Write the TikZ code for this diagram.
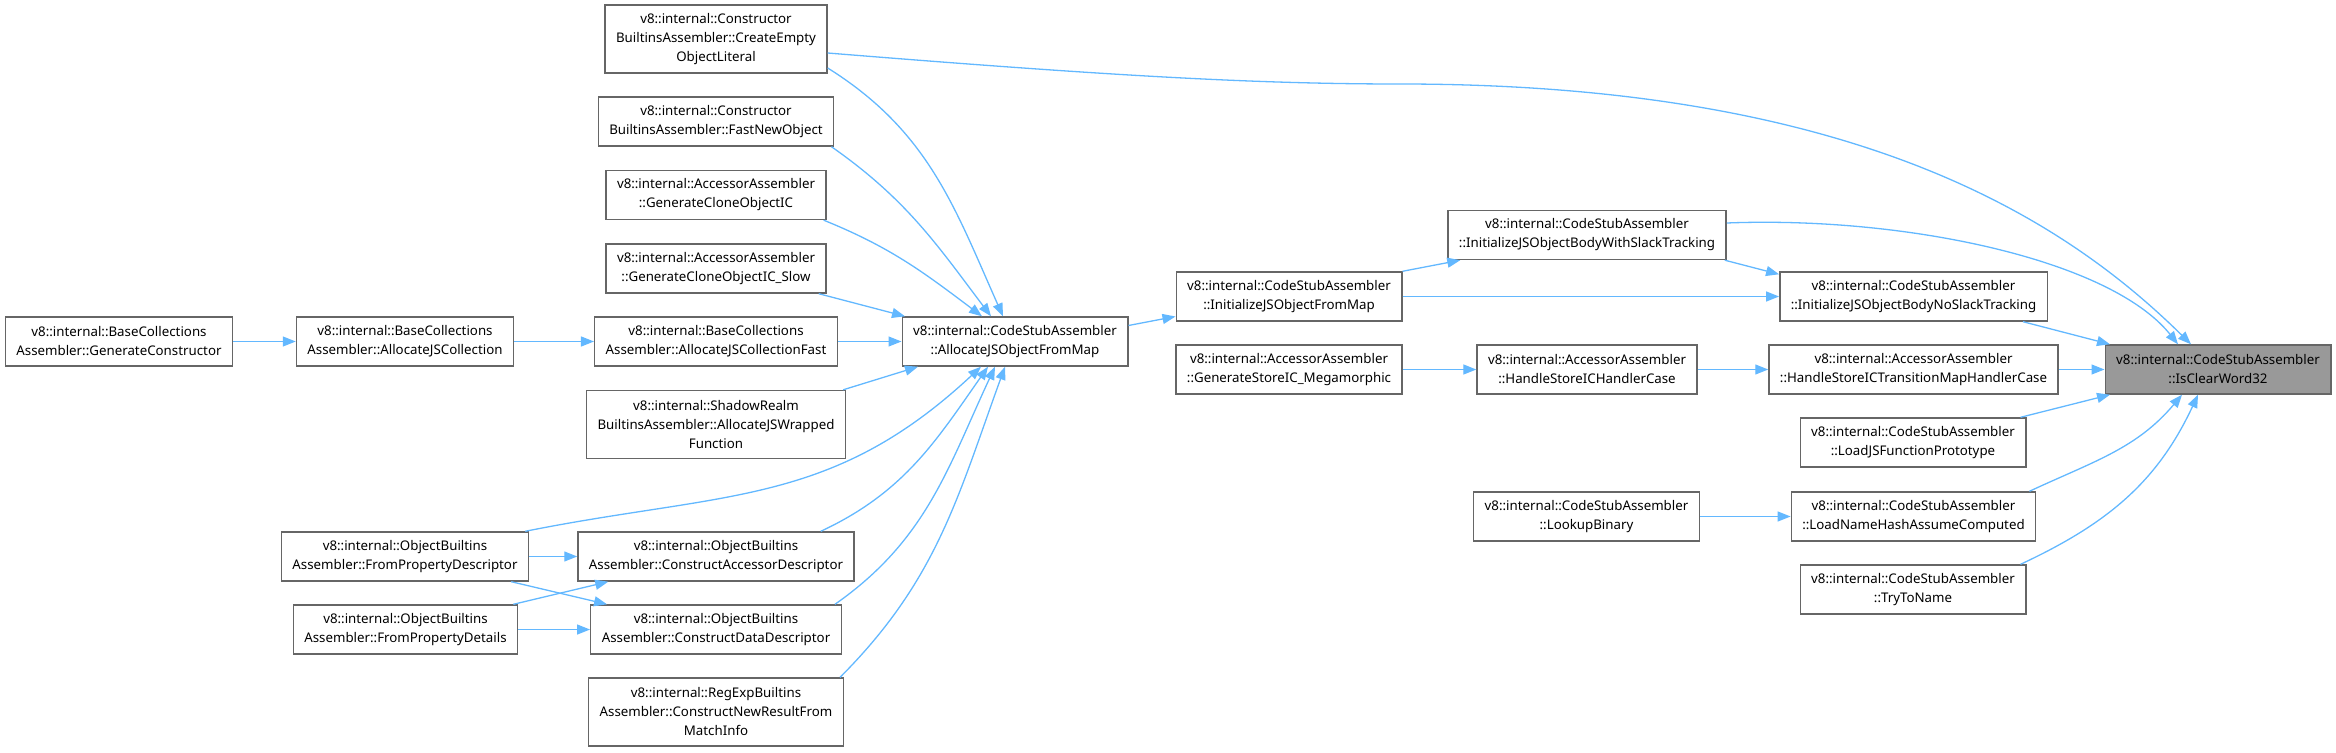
\documentclass[tikz,border=0pt]{standalone}
\usepackage{fontspec}
\setmainfont{Noto Sans}
\usepackage{xcolor}
\usepackage{tikz}
\usetikzlibrary{arrows.meta}
\definecolor{callblue}{HTML}{63B8FF}
\tikzset{
  fn/.style={rectangle, draw=black!60, fill=white, line width=1.4pt, align=center,
             font=\fontsize{13.3}{19}\selectfont, inner xsep=11pt, inner ysep=2pt,
             minimum height=49pt},
  fnlong/.style={fn, minimum height=68pt},
  fnself/.style={fn, fill=black!40},
  call/.style={-{Triangle[length=13pt, width=10pt]}, line width=1.3pt, draw=callblue},
}
\begin{document}
\begin{tikzpicture}[x=1pt, y=1pt]
    \useasboundingbox (0,0) rectangle (2336,-752);

    \node[fn] (genctor) at (119,-341.5) {v8::internal::BaseCollections\\Assembler::GenerateConstructor};
    \node[fn] (alloccoll) at (405,-341.5) {v8::internal::BaseCollections\\Assembler::AllocateJSCollection};
    \node[fn] (fromdesc) at (405,-556.5) {v8::internal::ObjectBuiltins\\Assembler::FromPropertyDescriptor};
    \node[fn] (fromdetails) at (405.5,-629.5) {v8::internal::ObjectBuiltins\\Assembler::FromPropertyDetails};

    \node[fnlong] (emptylit) at (716,-39) {v8::internal::Constructor\\BuiltinsAssembler::CreateEmpty\\ObjectLiteral};
    \node[fn] (fastnew) at (716,-121.5) {v8::internal::Constructor\\BuiltinsAssembler::FastNewObject};
    \node[fn] (cloneic) at (716,-195) {v8::internal::AccessorAssembler\\::GenerateCloneObjectIC};
    \node[fn] (cloneslow) at (716,-268.5) {v8::internal::AccessorAssembler\\::GenerateCloneObjectIC\_Slow};
    \node[fn] (allocfast) at (716,-341.5) {v8::internal::BaseCollections\\Assembler::AllocateJSCollectionFast};
    \node[fnlong] (wrapped) at (716,-424.5) {v8::internal::ShadowRealm\\BuiltinsAssembler::AllocateJSWrapped\\Function};
    \node[fn] (accdesc) at (716,-556.5) {v8::internal::ObjectBuiltins\\Assembler::ConstructAccessorDescriptor};
    \node[fn] (datadesc) at (716,-629.5) {v8::internal::ObjectBuiltins\\Assembler::ConstructDataDescriptor};
    \node[fnlong] (regexp) at (716,-712) {v8::internal::RegExpBuiltins\\Assembler::ConstructNewResultFrom\\MatchInfo};

    \node[fn] (allocobj) at (1015,-341.5) {v8::internal::CodeStubAssembler\\::AllocateJSObjectFromMap};
    \node[fn] (initobj) at (1289,-296.5) {v8::internal::CodeStubAssembler\\::InitializeJSObjectFromMap};
    \node[fn] (megamorphic) at (1289,-369.5) {v8::internal::AccessorAssembler\\::GenerateStoreIC\_Megamorphic};
    \node[fn] (withslack) at (1587,-235) {v8::internal::CodeStubAssembler\\::InitializeJSObjectBodyWithSlackTracking};
    \node[fn] (handlercase) at (1587,-369.5) {v8::internal::AccessorAssembler\\::HandleStoreICHandlerCase};
    \node[fn] (lookup) at (1586.5,-516.5) {v8::internal::CodeStubAssembler\\::LookupBinary};
    \node[fn] (noslack) at (1913.5,-296.5) {v8::internal::CodeStubAssembler\\::InitializeJSObjectBodyNoSlackTracking};
    \node[fn] (transition) at (1913.5,-369.5) {v8::internal::AccessorAssembler\\::HandleStoreICTransitionMapHandlerCase};
    \node[fn] (protofn) at (1913,-442.5) {v8::internal::CodeStubAssembler\\::LoadJSFunctionPrototype};
    \node[fn] (namehash) at (1913.5,-516.5) {v8::internal::CodeStubAssembler\\::LoadNameHashAssumeComputed};
    \node[fn] (toname) at (1913,-589.5) {v8::internal::CodeStubAssembler\\::TryToName};
    \node[fnself] (isclear) at (2218,-369.5) {v8::internal::CodeStubAssembler\\::IsClearWord32};

    \draw[call] (genctor) -- (alloccoll);
    \draw[call] (alloccoll) -- (allocfast);
    \draw[call] (allocfast) -- (allocobj);
    \draw[call] ([yshift=-29pt]emptylit.east) to[out=-32, in=114] ([xshift=-12pt]allocobj.north);
    \draw[call] ([yshift=-14pt]emptylit.east) .. controls (1100,-75) and (1250,-84) .. (1400,-84)
        .. controls (1850,-84) and (2060,-215) .. ([xshift=-27pt]isclear.north);
    \draw[call] ([xshift=-3pt]fastnew.south east) to[out=-35, in=127] ([xshift=-24pt]allocobj.north);
    \draw[call] ([xshift=-3pt]cloneic.south east) to[out=-22, in=143] ([xshift=-33pt]allocobj.north);
    \draw[call] ([xshift=-8pt]cloneslow.south east) -- ([xshift=-110pt]allocobj.north);
    \draw[call] ([xshift=-3pt]wrapped.north east) -- ([xshift=-97pt]allocobj.south);
    \draw[call] ([xshift=-4pt]fromdesc.north east) .. controls +(200,40) and +(-150,-140) .. ([xshift=-34pt]allocobj.south);
    \draw[call] ([xshift=-34pt]accdesc.north east) to[out=25, in=-125] ([xshift=-27pt]allocobj.south);
    \draw[call] ([xshift=-7pt]datadesc.north east) to[out=35, in=-115] ([xshift=-20pt]allocobj.south);
    \draw[call] ([xshift=-4pt]regexp.north east) to[out=45, in=-110] ([xshift=-10pt]allocobj.south);
    \draw[call] (fromdesc) -- (accdesc);
    \draw[call] ([xshift=-18pt]fromdesc.south east) -- ([xshift=17pt]datadesc.north west);
    \draw[call] ([xshift=-5pt]fromdetails.north east) -- ([xshift=31pt]accdesc.south west);
    \draw[call] (fromdetails) -- (datadesc);

    \draw[call] ([yshift=16pt]allocobj.east) -- ([yshift=-20pt]initobj.west);
    \draw[call] (initobj.north east) -- ([xshift=13pt]withslack.south west);
    \draw[call] (initobj) -- (noslack);
    \draw[call] ([xshift=-2pt]withslack.south east) -- ([yshift=-3pt]noslack.north west);
    \draw[call] ([yshift=12pt]withslack.east) .. controls +(177,7) and +(-68,85) .. ([xshift=-40pt]isclear.north);
    \draw[call] ([xshift=-25pt]noslack.south east) -- ([xshift=-108pt]isclear.north);
    \draw[call] (megamorphic) -- (handlercase);
    \draw[call] (handlercase) -- (transition);
    \draw[call] (transition) -- (isclear);
    \draw[call] ([xshift=-6pt]protofn.north east) -- ([xshift=-108pt]isclear.south);
    \draw[call] (lookup) -- (namehash);
    \draw[call] ([xshift=-7pt]namehash.north east) to[out=25, in=-130] ([xshift=-36pt]isclear.south);
    \draw[call] ([xshift=-6pt]toname.north east) to[out=25, in=-115] ([xshift=-20pt]isclear.south);
\end{tikzpicture}
\end{document}
